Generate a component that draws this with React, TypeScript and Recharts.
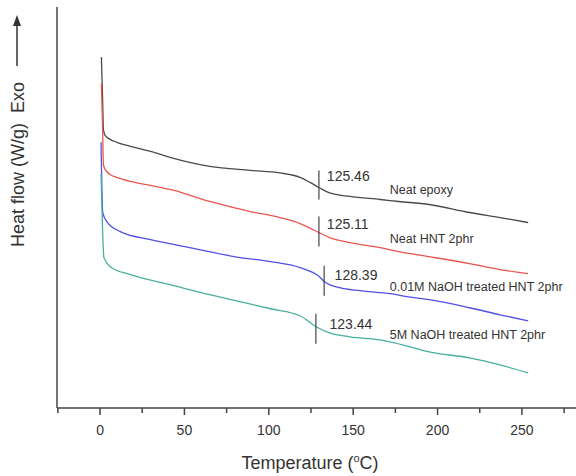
import React from 'react';
import { LineChart, Line, XAxis, YAxis, ReferenceLine, ReferenceDot, Label } from 'recharts';

// DSC traces (temperature in °C, heat flow in arbitrary offset units)
const epoxyTemps = [0.8, 1.5, 2, 3, 6, 10, 18, 30, 41.5, 65, 89, 106.6, 118.5, 124.4, 129.7, 136, 148, 166, 177, 195, 219, 237, 253.7];
const epoxyFlow = [35.0, 31.0, 27.8, 27.2, 26.8, 26.5, 26.1, 25.6, 25.0, 24.1, 23.7, 23.45, 23.0, 22.5, 22.0, 21.45, 21.1, 20.8, 20.6, 20.3, 19.5, 19.0, 18.5];

const hntTemps = [0.8, 1.5, 2, 3, 6, 10, 18, 30, 41.5, 65, 89, 106.6, 118.5, 124.4, 129.7, 136, 148, 166, 177, 195, 219, 237, 253.7];
const hntFlow = [32.4, 28.0, 24.3, 23.8, 23.3, 23.0, 22.6, 22.2, 21.8, 20.6, 19.6, 19.0, 18.4, 17.95, 17.5, 17.0, 16.5, 16.0, 15.6, 15.1, 14.4, 13.8, 13.4];

const naoh001Temps = [0.6, 1.6, 4, 12, 30, 53, 83, 101, 118.5, 130, 133, 142, 154, 172, 184, 195, 219, 237, 253.7];
const naoh001Flow = [26.5, 19.5, 18.6, 17.6, 16.8, 16.0, 15.0, 14.6, 14.0, 13.1, 12.6, 12.0, 11.7, 11.4, 11.05, 10.8, 10.0, 9.3, 8.7];

const naoh5Temps = [0.6, 1.5, 2.3, 6, 18, 41.5, 65, 83, 101, 118.5, 128, 136, 148, 166, 184, 195, 219, 237, 253.7];
const naoh5Flow = [23.3, 17.8, 15.0, 14.1, 13.3, 12.3, 11.3, 10.6, 9.9, 9.2, 8.1, 7.5, 7.1, 6.8, 6.1, 5.6, 5.0, 4.3, 3.5];

const seriesNames = ['Neat epoxy', 'Neat HNT 2phr', '0.01M NaOH treated HNT 2phr', '5M NaOH treated HNT 2phr'];
const seriesColors = ['#4a4a4a', '#e8554e', '#5050e6', '#48ae9e'];
const nameTemp = 171.7;
const nameFlow = [21.8, 16.9, 12.1, 7.3];

// Tg markers
const markerTemps = [129.7, 129.7, 132.8, 127.9];
const markerTop = [23.7, 19.1, 14.2, 9.4];
const markerBottom = [20.8, 16.1, 11.2, 6.4];
const markerText = ['125.46', '125.11', '128.39', '123.44'];
const markerTextTemp = [134.4, 134.4, 139, 136];
const markerTextFlow = [23.1, 18.3, 13.3, 8.4];

const xTicks = [-25, 0, 25, 50, 75, 100, 125, 150, 175, 200, 225, 250, 275];

const toRows = (t: number[], v: number[]) => t.map((temp, i) => ({ temp, flow: v[i] }));
const series = [
  toRows(epoxyTemps, epoxyFlow),
  toRows(hntTemps, hntFlow),
  toRows(naoh001Temps, naoh001Flow),
  toRows(naoh5Temps, naoh5Flow),
];

const FONT = '"Liberation Sans", Arial, sans-serif';
const AXIS = '#444';

const TempTick = ({ x, y, payload }: any) => {
  const major = payload.value % 50 === 0;
  return (
    <g>
      <line x1={x} x2={x} y1={y} y2={y + (major ? 7 : 5)} stroke={AXIS} strokeWidth={1.5} />
      {major && (
        <text x={x} y={y + 27} textAnchor="middle" fontSize={14} fontFamily={FONT} fill="#333">
          {payload.value}
        </text>
      )}
    </g>
  );
};

const textAt = (text: string, size: number) => (props: any) => {
  const { x, y } = props.viewBox;
  return (
    <text x={x} y={y} dy="0.35em" fontSize={size} fontFamily={FONT} fill="#333">
      {text}
    </text>
  );
};

const YTitle = () => (
  <g>
    <text
      transform="translate(24, 247) rotate(-90)"
      fontSize={18}
      fontFamily={FONT}
      fill="#333"
      xmlSpace="preserve"
    >
      {'Heat flow (W/g)  Exo'}
    </text>
    <line x1={17} x2={17} y1={66} y2={24} stroke="#333" strokeWidth={1.5} />
    <polygon points="17,15 13,26 21,26" fill="#333" />
  </g>
);

const XTitle = () => (
  <text x={310} y={469} textAnchor="middle" fontSize={18} fontFamily={FONT} fill="#333">
    Temperature (<tspan fontSize={11} dy={-7}>o</tspan>
    <tspan dy={7}>C)</tspan>
  </text>
);

export default function App() {
  return (
    <div style={{ position: 'absolute', left: 0, top: 0, width: 576, height: 476, overflow: 'hidden', background: '#fff' }}>
      <LineChart width={590} height={476} margin={{ top: 7, right: 9, left: 0, bottom: 0 }}>
        <XAxis
          dataKey="temp"
          type="number"
          domain={[-25.5, 285]}
          ticks={xTicks}
          allowDataOverflow
          height={68}
          tickSize={0}
          tickMargin={0}
          tickLine={false}
          tick={<TempTick />}
          axisLine={{ stroke: AXIS, strokeWidth: 1.5 }}
        >
          <Label content={<XTitle />} />
        </XAxis>
        <XAxis
          xAxisId="top"
          orientation="top"
          type="number"
          domain={[-25.5, 285]}
          height={0}
          tick={false}
          tickLine={false}
          axisLine={{ stroke: AXIS, strokeWidth: 1.5 }}
        />
        <YAxis
          type="number"
          domain={[0, 40]}
          width={57}
          tick={false}
          tickLine={false}
          axisLine={{ stroke: AXIS, strokeWidth: 1.5 }}
        >
          <Label content={<YTitle />} />
        </YAxis>
        {series.map((rows, i) => (
          <Line
            key={seriesNames[i]}
            data={rows}
            dataKey="flow"
            type="monotone"
            stroke={seriesColors[i]}
            strokeWidth={1.3}
            dot={false}
            isAnimationActive={false}
          />
        ))}
        {markerTemps.map((t, i) => (
          <ReferenceLine
            key={`m${i}`}
            segment={[{ x: t, y: markerTop[i] }, { x: t, y: markerBottom[i] }]}
            stroke="#444"
            strokeWidth={1.2}
          />
        ))}
        {markerText.map((txt, i) => (
          <ReferenceDot
            key={`t${i}`}
            x={markerTextTemp[i]}
            y={markerTextFlow[i]}
            r={0}
            fill="none"
            stroke="none"
            label={{ content: textAt(txt, 14) }}
          />
        ))}
        {seriesNames.map((name, i) => (
          <ReferenceDot
            key={`n${i}`}
            x={nameTemp}
            y={nameFlow[i]}
            r={0}
            fill="none"
            stroke="none"
            label={{ content: textAt(name, 12.5) }}
          />
        ))}
      </LineChart>
    </div>
  );
}
